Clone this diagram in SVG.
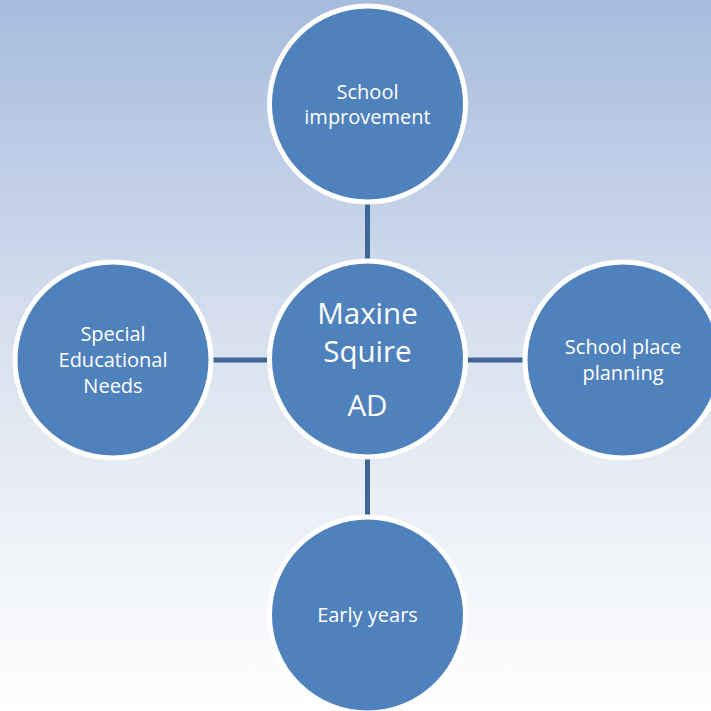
<svg xmlns="http://www.w3.org/2000/svg" width="711" height="711" viewBox="0 0 711 711">
<defs>
<linearGradient id="bg" x1="0" y1="0" x2="0" y2="1">
<stop offset="0" stop-color="#a6bcdd"/>
<stop offset="0.55" stop-color="#dfe6f1"/>
<stop offset="1" stop-color="#ffffff"/>
</linearGradient>
</defs>
<style>
.node{fill:#4f81bd;stroke:#ffffff;stroke-width:5}
.lbl{fill:#ffffff;font-family:"Open Sans","Liberation Sans",sans-serif;font-size:20px;text-anchor:middle}
.big{font-size:29.5px}
.conn{stroke:#3e6698;stroke-width:5;fill:none}
</style>
<rect x="0" y="0" width="711" height="711" fill="url(#bg)"/>
<g id="connectors">
<line class="conn" x1="367.5" y1="204" x2="367.5" y2="260"/>
<line class="conn" x1="367.5" y1="459" x2="367.5" y2="515"/>
<line class="conn" x1="213" y1="360" x2="267" y2="360"/>
<line class="conn" x1="468" y1="360" x2="523" y2="360"/>
</g>
<g id="node-center">
<circle class="node" cx="367.5" cy="359" r="98"/>
<text class="lbl big" x="367.5" y="324">Maxine</text>
<text class="lbl big" x="367.5" y="362">Squire</text>
<text class="lbl big" x="367.5" y="416">AD</text>
</g>
<g id="node-top">
<circle class="node" cx="367.5" cy="104" r="98"/>
<text class="lbl" x="367.5" y="99">School</text>
<text class="lbl" x="367.5" y="124">improvement</text>
</g>
<g id="node-left">
<circle class="node" cx="113" cy="360" r="98"/>
<text class="lbl" x="113" y="341">Special</text>
<text class="lbl" x="113" y="367">Educational</text>
<text class="lbl" x="113" y="393">Needs</text>
</g>
<g id="node-right">
<circle class="node" cx="623" cy="360" r="98"/>
<text class="lbl" x="623" y="354">School place</text>
<text class="lbl" x="623" y="380">planning</text>
</g>
<g id="node-bottom">
<circle class="node" cx="367.5" cy="615" r="98"/>
<text class="lbl" x="367.5" y="622">Early years</text>
</g>
</svg>
